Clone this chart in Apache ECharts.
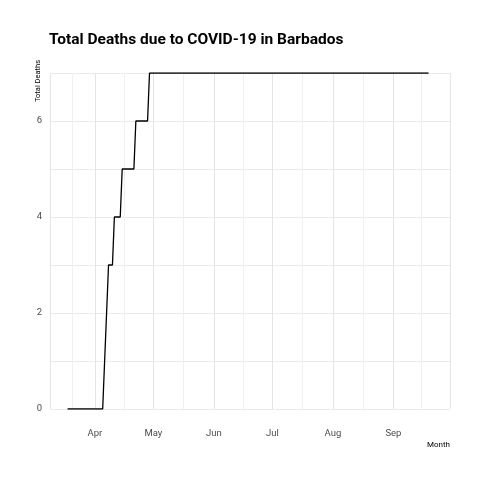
<!DOCTYPE html>
<html><head><meta charset="utf-8">
<script src="https://cdn.jsdelivr.net/npm/echarts@6/dist/echarts.min.js"></script>
<style>html,body{margin:0;background:#fff}#c{width:480px;height:480px}</style>
</head><body><div id="c"></div>
<script>
// cumulative deaths, change points
var dates = ['2020-03-18','2020-04-05','2020-04-08','2020-04-10','2020-04-11','2020-04-14','2020-04-15','2020-04-21','2020-04-22','2020-04-28','2020-04-29','2020-09-19'];
var deaths = [0, 0, 3, 3, 4, 4, 5, 5, 6, 6, 7, 7];
var yTicks = [0, 2, 4, 6];

var chart = echarts.init(document.getElementById('c'));
var font = 'Roboto, sans-serif';
chart.setOption({
  useUTC: true,
  animation: false,
  title: { text: 'Total Deaths due to COVID-19 in Barbados', left: 44, top: 27,
    textStyle: { fontSize: 15.5, fontWeight: 'bold', color: '#000', fontFamily: font } },
  grid: { left: 50, right: 30, top: 73, bottom: 71 },
  xAxis: {
    type: 'time', min: Date.UTC(2020, 2, 9), max: Date.UTC(2020, 8, 30),
    name: 'Month', nameLocation: 'end', nameGap: 0,
    nameTextStyle: { fontSize: 8, color: '#000', fontFamily: font, align: 'right', verticalAlign: 'top', padding: [32, 0, 0, 0] },
    axisLine: { show: false }, axisTick: { show: false },
    splitNumber: 7,
    axisLabel: { fontSize: 9.5, color: '#4d4d4d', fontFamily: font, margin: 20,
      formatter: function (v) { return ['Jan','Feb','Mar','Apr','May','Jun','Jul','Aug','Sep','Oct','Nov','Dec'][new Date(v).getUTCMonth()]; } },
    splitLine: { show: true, lineStyle: { color: '#e5e5e5' } },
    minorTick: { show: false, splitNumber: 2 },
    minorSplitLine: { show: true, lineStyle: { color: '#f0f0f0' } }
  },
  yAxis: {
    type: 'value', min: 0, max: 7, interval: 1,
    name: 'Total Deaths', nameLocation: 'end', nameRotate: 90, nameGap: 0,
    nameTextStyle: { fontSize: 7.5, color: '#000', fontFamily: font, align: 'right', verticalAlign: 'bottom', padding: [0, -13, 8, 0] },
    axisLine: { show: false }, axisTick: { show: false },
    axisLabel: { fontSize: 9.5, color: '#4d4d4d', fontFamily: font, margin: 8,
      formatter: function (v) { return yTicks.indexOf(v) >= 0 ? String(v) : ''; } },
    splitLine: { lineStyle: { color: '#ebebeb' } }
  },
  series: [{
    type: 'line', symbol: 'none',
    data: dates.map(function (d, i) { return [d, deaths[i]]; }),
    lineStyle: { color: '#000', width: 1.3 }
  }]
});
</script></body></html>
